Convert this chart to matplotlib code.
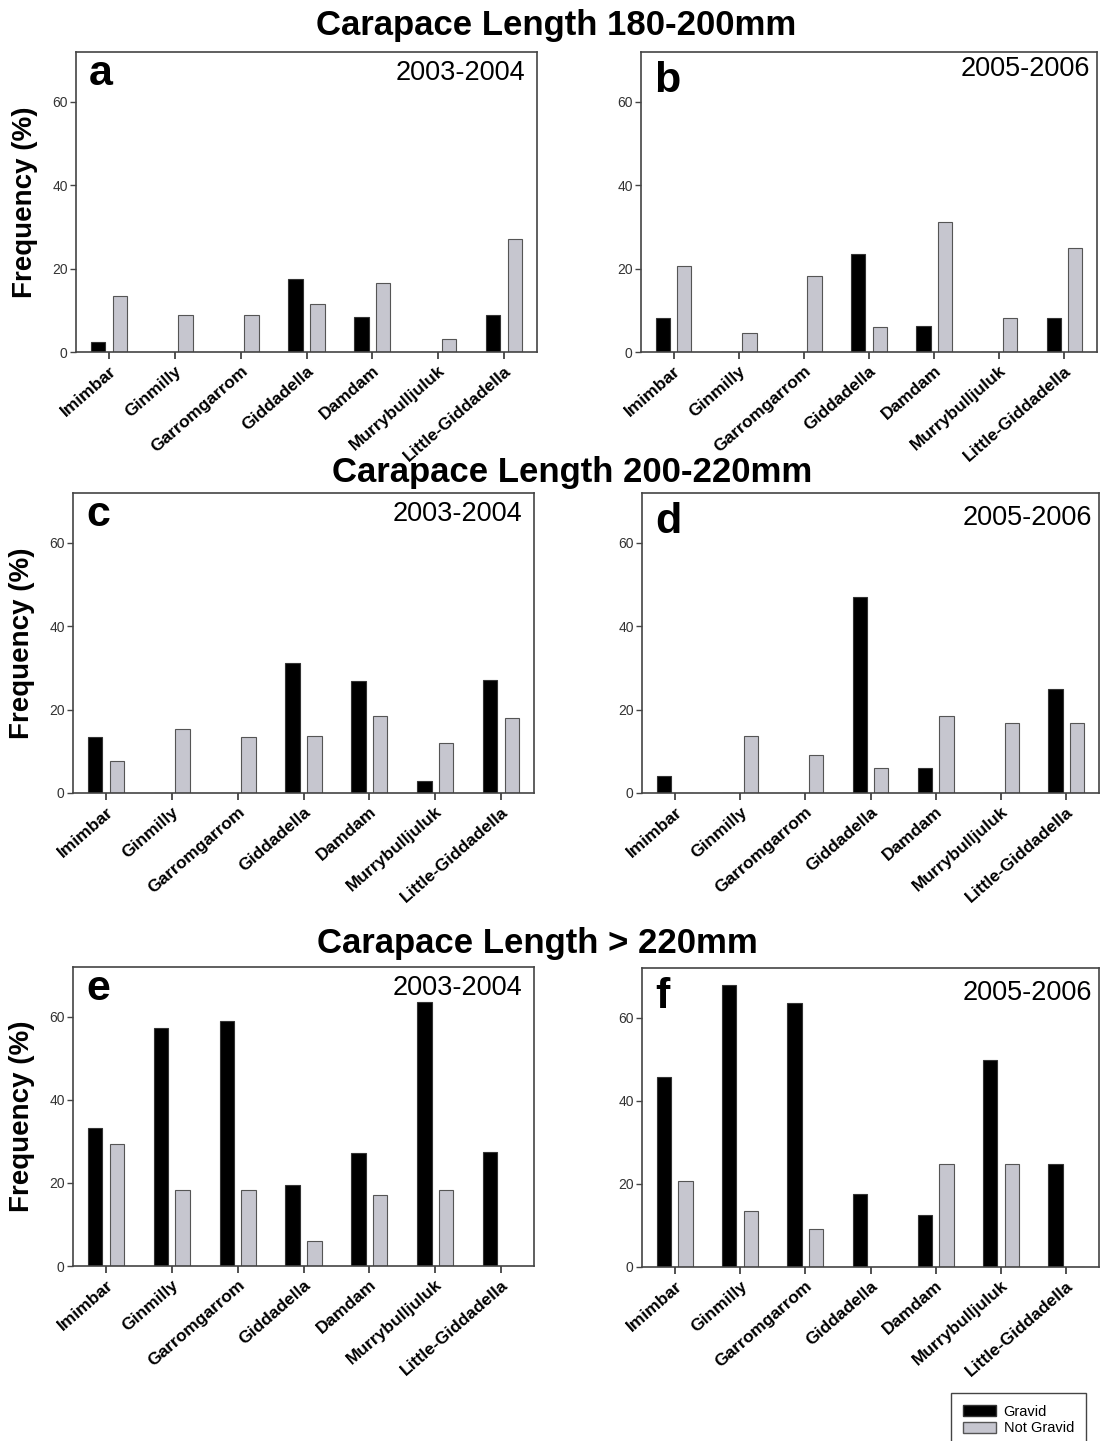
import matplotlib
matplotlib.use('Agg')
import matplotlib.pyplot as plt
from matplotlib.patches import Patch
import numpy as np

plt.rcParams['font.family'] = ['Liberation Sans', 'DejaVu Sans']

sites = ['Imimbar', 'Ginmilly', 'Garromgarrom', 'Giddadella', 'Damdam',
         'Murrybulljuluk', 'Little-Giddadella']

# frequency (%) of gravid / not gravid females per site
gravid_a = [2.4, 0, 0, 17.5, 8.4, 0, 9.0]
notgrav_a = [13.4, 9.0, 9.0, 11.6, 16.6, 3.1, 27.2]
gravid_b = [8.2, 0, 0, 23.4, 6.3, 0, 8.2]
notgrav_b = [20.7, 4.6, 18.2, 6.0, 31.1, 8.2, 24.9]
gravid_c = [13.4, 0, 0, 31.3, 27.0, 2.9, 27.2]
notgrav_c = [7.8, 15.3, 13.4, 13.7, 18.6, 12.1, 18.1]
gravid_d = [4.2, 0, 0, 47.0, 6.1, 0, 24.9]
notgrav_d = [0, 13.7, 9.1, 5.9, 18.6, 16.7, 16.7]
gravid_e = [33.3, 57.4, 59.0, 19.5, 27.2, 63.6, 27.4]
notgrav_e = [29.4, 18.3, 18.3, 6.0, 17.0, 18.3, 0]
gravid_f = [45.7, 68.0, 63.5, 17.5, 12.5, 49.8, 24.7]
notgrav_f = [20.7, 13.6, 9.2, 0, 24.7, 24.7, 0]

row_titles = ['Carapace Length 180-200mm', 'Carapace Length 200-220mm',
              'Carapace Length > 220mm']
seasons = ['2003-2004', '2005-2006']

W, H = 1102, 1441
fig = plt.figure(figsize=(W / 100, H / 100), dpi=100)

def px_rect(l, t, r, b):
    return [l / W, 1 - b / H, (r - l) / W, (b - t) / H]

# panel boxes in pixels: left, top, right, bottom
boxes = {
    'a': (76, 52, 537, 352), 'b': (641, 52, 1097, 352),
    'c': (73, 493, 534, 793), 'd': (642, 493, 1099, 793),
    'e': (73, 967, 534, 1266), 'f': (642, 968, 1099, 1267),
}
panels = [('a', gravid_a, notgrav_a), ('b', gravid_b, notgrav_b),
          ('c', gravid_c, notgrav_c), ('d', gravid_d, notgrav_d),
          ('e', gravid_e, notgrav_e), ('f', gravid_f, notgrav_f)]

grey = '#c6c6cf'
edge = '#333333'
x = np.arange(len(sites))

for i, (letter, g, ng) in enumerate(panels):
    l, t, r, b = boxes[letter]
    ax = fig.add_axes(px_rect(l, t, r, b))
    ax.bar(x - 0.165, g, width=0.22, color='black', edgecolor=edge, linewidth=0.8)
    ax.bar(x + 0.165, ng, width=0.22, color=grey, edgecolor='#555555', linewidth=0.8)
    ax.set_xlim(-0.5, 6.5)
    ax.set_ylim(0, 72)
    ax.set_yticks([0, 20, 40, 60])
    ax.set_xticks(x)
    ax.set_xticklabels(sites, rotation=41, ha='right', rotation_mode='anchor',
                       fontsize=12.5, fontweight='bold')
    ax.tick_params(axis='y', direction='out', length=4, width=1, labelsize=10,
                   labelcolor='#333333', color='#444444', pad=2)
    ax.tick_params(axis='x', direction='out', length=5, width=1.2, color='#333333', pad=3)
    for s in ax.spines.values():
        s.set_color('#444444')
        s.set_linewidth(1.2)

    left = (i % 2 == 0)
    hpx = b - t
    wpx = r - l
    base_letter = 33 if left else 40
    base_season = 28 if left else 24
    if letter in 'df':
        base_season = 32
    ax.text(13 / wpx, 1 - base_letter / hpx, letter, transform=ax.transAxes,
            fontsize=31, fontweight='bold', ha='left', va='baseline')
    ax.text(1 - (12 if left else 7) / wpx, 1 - base_season / hpx, seasons[i % 2],
            transform=ax.transAxes, fontsize=19.5, ha='right', va='baseline')
    if left:
        ax.set_ylabel('Frequency (%)', fontsize=20, fontweight='bold', labelpad=10)

# row headings
for (cx, by), title in zip([(556, 35), (572, 482), (537, 953)], row_titles):
    fig.text(cx / W, 1 - by / H, title, fontsize=25, fontweight='bold',
             ha='center', va='baseline')

handles = [Patch(facecolor='black', edgecolor=edge, label='Gravid'),
           Patch(facecolor=grey, edgecolor='#555555', label='Not Gravid')]
leg = fig.legend(handles=handles, loc='upper right',
                 bbox_to_anchor=(1093 / W, 1 - 1386 / H), fontsize=10.5,
                 fancybox=False, framealpha=1, edgecolor='#444444',
                 handlelength=2.3, handleheight=0.8, borderpad=0.8,
                 labelspacing=0.15, handletextpad=0.5)
leg.get_frame().set_linewidth(1.0)

fig.savefig('out.png', dpi=100)
